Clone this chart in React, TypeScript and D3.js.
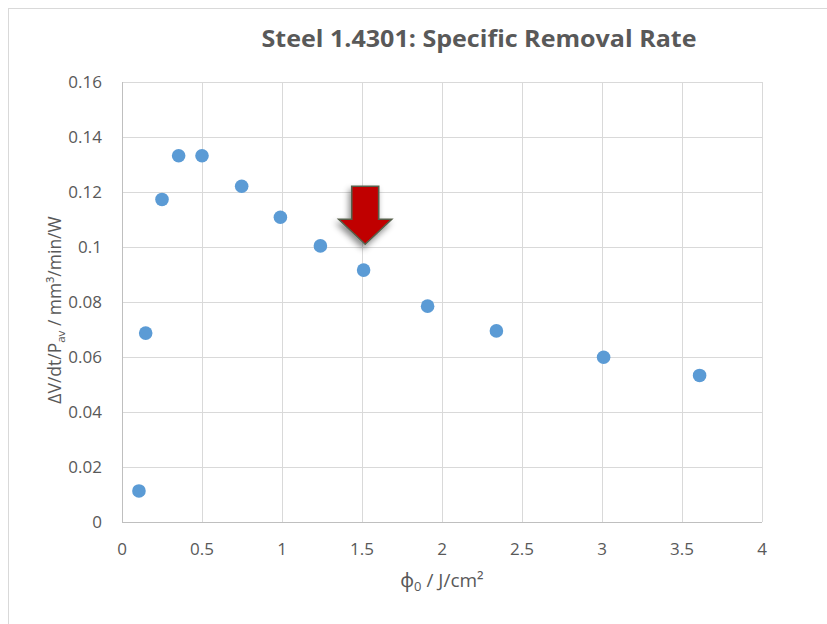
import React from "react";
import * as d3 from "d3";

// Fluence (J/cm²) and specific removal rate (mm³/min/W)
const fluence = [0.106, 0.148, 0.25, 0.354, 0.5, 0.748, 0.99, 1.24, 1.51, 1.91, 2.34, 3.01, 3.61];
const removalRate = [0.0113, 0.0687, 0.1173, 0.1332, 0.1332, 0.1221, 0.1108, 0.1004, 0.0916, 0.0785, 0.0695, 0.0599, 0.0533];

const xTicks = [0, 0.5, 1, 1.5, 2, 2.5, 3, 3.5, 4];
const yTicks = [0, 0.02, 0.04, 0.06, 0.08, 0.1, 0.12, 0.14, 0.16];

// Highlighted optimum
const optimumFluence = 1.52;
const optimumTip = 0.101;

const W = 827;
const H = 624;
const M = { left: 122, right: 762, top: 82, bottom: 522 };
const FONT = "'Open Sans', 'Noto Sans', sans-serif";
const TEXT = "#595959";

export default function App() {
  const x = d3.scaleLinear().domain([0, 4]).range([M.left, M.right]);
  const y = d3.scaleLinear().domain([0, 0.16]).range([M.bottom, M.top]);

  const ax = x(optimumFluence);
  const ay = y(optimumTip);
  const arrowPath = d3.path();
  arrowPath.moveTo(ax - 13.5, ay - 58);
  arrowPath.lineTo(ax + 13.5, ay - 58);
  arrowPath.lineTo(ax + 13.5, ay - 25);
  arrowPath.lineTo(ax + 26.5, ay - 25);
  arrowPath.lineTo(ax, ay);
  arrowPath.lineTo(ax - 26.5, ay - 25);
  arrowPath.lineTo(ax - 13.5, ay - 25);
  arrowPath.closePath();

  return (
    <svg
      width={W}
      height={H}
      style={{ position: "absolute", left: 0, top: 0, background: "#fff" }}
      fontFamily={FONT}
    >
      <defs>
        <filter id="arrowShadow" x="-50%" y="-50%" width="200%" height="200%">
          <feDropShadow dx="-2" dy="4" stdDeviation="3" floodColor="#000" floodOpacity="0.45" />
        </filter>
      </defs>
      <rect x={8.5} y={8.5} width={W + 20} height={H + 20} fill="#fff" stroke="#d9d9d9" />

      <text
        x={(M.left + M.right) / 2 + 37}
        y={47}
        textAnchor="middle"
        fontSize={24}
        fontWeight="bold"
        fill={TEXT}
        textLength={435}
        lengthAdjust="spacingAndGlyphs"
      >
        Steel 1.4301: Specific Removal Rate
      </text>

      {/* gridlines */}
      {yTicks.map((t) => (
        <line key={"gy" + t} x1={M.left} x2={M.right} y1={Math.round(y(t)) + 0.5} y2={Math.round(y(t)) + 0.5} stroke="#d9d9d9" strokeWidth={1} />
      ))}
      {xTicks.map((t) => (
        <line key={"gx" + t} x1={Math.round(x(t)) + 0.5} x2={Math.round(x(t)) + 0.5} y1={M.top} y2={M.bottom} stroke="#d9d9d9" strokeWidth={1} />
      ))}
      <line x1={M.left + 0.5} x2={M.left + 0.5} y1={M.top} y2={M.bottom} stroke="#bfbfbf" />
      <line x1={M.left} x2={M.right} y1={M.bottom + 0.5} y2={M.bottom + 0.5} stroke="#bfbfbf" />

      {/* tick labels */}
      {yTicks.map((t) => (
        <text key={"ty" + t} x={102} y={y(t)} dy="0.35em" textAnchor="end" fontSize={17} fill={TEXT}>
          {String(t)}
        </text>
      ))}
      {xTicks.map((t) => (
        <text key={"tx" + t} x={x(t)} y={555} textAnchor="middle" fontSize={17} fill={TEXT}>
          {String(t)}
        </text>
      ))}

      {/* axis titles */}
      <text x={(M.left + M.right) / 2} y={587} textAnchor="middle" fontSize={19} fill={TEXT}>
        ϕ<tspan fontSize={13} dy={4}>0</tspan>
        <tspan dy={-4}> / J/cm²</tspan>
      </text>
      <text transform={`translate(61,${(M.top + M.bottom) / 2 + 8}) rotate(-90)`} textAnchor="middle" fontSize={17.5} fill={TEXT}>
        ΔV/dt/P<tspan fontSize={11.5} dy={4}>av</tspan>
        <tspan dy={-4}> / mm³/min/W</tspan>
      </text>

      {/* data points */}
      {fluence.map((f, i) => (
        <circle key={i} cx={x(f)} cy={y(removalRate[i])} r={6.8} fill="#5B9BD5" />
      ))}

      {/* arrow marking the optimum */}
      <path
        d={arrowPath.toString()}
        fill="#C00000"
        stroke="#56604c"
        strokeWidth={1.6}
        strokeLinejoin="miter"
        filter="url(#arrowShadow)"
      />
    </svg>
  );
}
